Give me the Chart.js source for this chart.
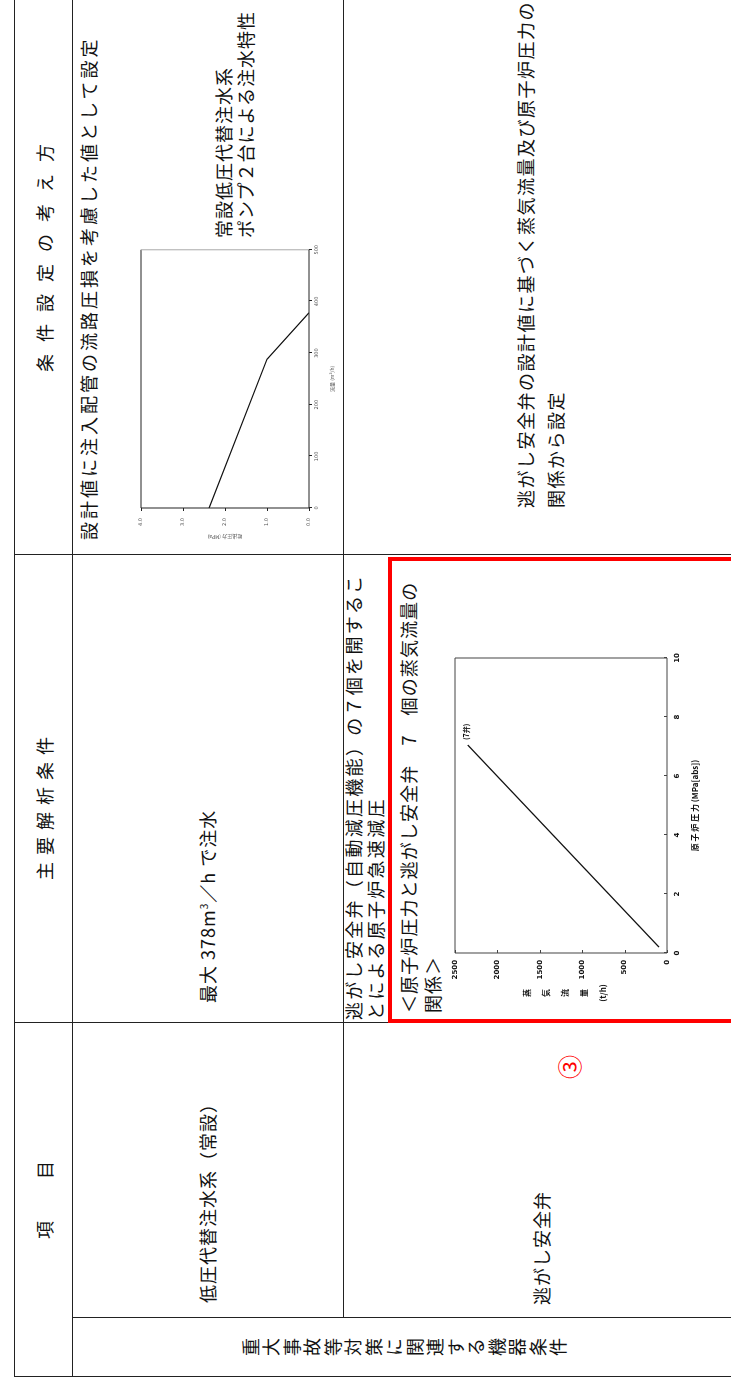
<!DOCTYPE html>
<html lang="ja">
<head>
<meta charset="utf-8">
<title>逃がし安全弁 蒸気流量と原子炉圧力</title>
<script src="https://cdn.jsdelivr.net/npm/chart.js@4.4.1/dist/chart.umd.min.js"></script>
<style>
  html, body { margin: 0; padding: 0; background: #fff; }
  body { width: 731px; height: 1385px; overflow: hidden; position: relative; }
  /* the page is laid out landscape, then turned a quarter left */
  #page {
    position: absolute; left: 0; top: 0; width: 1385px; height: 731px;
    transform-origin: 0 0; transform: translateY(1385px) rotate(-90deg);
    font-family: "Noto Sans CJK JP", sans-serif; color: #111;
  }
  .t { position: absolute; white-space: nowrap; font-size: 18px; line-height: 18px; }
  .hl { position: absolute; height: 0; border-top: 1.5px solid #222; }
  .vl { position: absolute; width: 0; border-left: 1.5px solid #222; }
  .vert { writing-mode: vertical-rl; }
  #redbox { position: absolute; left: 362px; top: 388px; width: 466px; height: 420px;
            border: 4px solid #ff0000; box-sizing: border-box; }
  #ytitle { position: absolute; left: 382px; top: 517px; width: 20px; text-align: center;
            font: bold 8px/19px "Noto Sans CJK JP", sans-serif; color: #111; }
  canvas { position: absolute; }
</style>
</head>
<body>
<div id="page">
  <!-- table rules -->
  <div class="vl" style="left:8px;top:14px;height:730px"></div>
  <div class="vl" style="left:67px;top:72px;height:672px"></div>
  <div class="vl" style="left:362px;top:14px;height:730px"></div>
  <div class="vl" style="left:830px;top:14px;height:730px"></div>
  <div class="hl" style="left:8px;top:14px;width:1380px"></div>
  <div class="hl" style="left:8px;top:72px;width:1380px"></div>
  <div class="hl" style="left:67px;top:343px;width:1320px"></div>

  <!-- header row -->
  <div class="t" style="left:146px;top:35px;letter-spacing:2px">項　　目</div>
  <div class="t" style="left:505px;top:35px;letter-spacing:7px">主要解析条件</div>
  <div class="t" style="left:1013px;top:35px;letter-spacing:12px">条件設定の考え方</div>

  <!-- category column -->
  <div class="t vert" style="left:29px;top:242px;letter-spacing:2.5px">重大事故等対策に関連する機器条件</div>

  <!-- row 1 -->
  <div class="t" style="left:82px;top:198px;letter-spacing:1px">低圧代替注水系（常設）</div>
  <div class="t" style="left:382px;top:198px;letter-spacing:1px">最大 378m<sup style="font-size:10px;line-height:0">3</sup>／h で注水</div>
  <div class="t" style="left:845px;top:79px;letter-spacing:3px">設計値に注入配管の流路圧損を考慮した値として設定</div>
  <div class="t" style="left:1147px;top:214px;letter-spacing:1px">常設低圧代替注水系</div>
  <div class="t" style="left:1147px;top:236px;letter-spacing:1px">ポンプ２台による注水特性</div>
  <canvas id="pumpChart" width="310" height="215" style="left:835px;top:128px"></canvas>

  <!-- row 2 -->
  <div class="t" style="left:80px;top:532px;letter-spacing:1px">逃がし安全弁</div>
  <div class="t" style="left:306px;top:557px;font-size:24px;line-height:24px;color:#ff0000">③</div>
  <div class="t" style="left:365px;top:344px;letter-spacing:2.3px">逃がし安全弁（自動減圧機能）の７個を開するこ</div>
  <div class="t" style="left:365px;top:366px;letter-spacing:2.3px">とによる原子炉急速減圧</div>
  <div id="redbox"></div>
  <div class="t" style="left:372px;top:399px;letter-spacing:1.1px">＜原子炉圧力と逃がし安全弁　7　個の蒸気流量の</div>
  <div class="t" style="left:372px;top:423px;letter-spacing:1.1px">関係＞</div>
  <canvas id="srvChart" width="360" height="270" style="left:380px;top:440px"></canvas>
  <div id="ytitle">蒸<br>気<br>流<br>量<br>(t/h)</div>
  <div class="t" style="left:877px;top:516px;letter-spacing:1.5px">逃がし安全弁の設計値に基づく蒸気流量及び原子炉圧力の</div>
  <div class="t" style="left:877px;top:546px;letter-spacing:1.5px">関係から設定</div>
</div>

<script>
// pump injection characteristic (row 1)
const pumpFlow = [0, 288, 378];            // m3/h
const pumpPressure = [2.38, 1.0, 0.0];     // MPa
const pumpFlowTicks = [0, 100, 200, 300, 400, 500];
const pumpPressureTicks = [0, 1, 2, 3, 4];

// 7 SRV steam flow vs reactor pressure (row 2)
const srvPressure = [0.2, 7.05];           // MPa[abs]
const srvFlow = [95, 2350];                // t/h
const srvPressureTicks = [0, 2, 4, 6, 8, 10];
const srvFlowTicks = [0, 500, 1000, 1500, 2000, 2500];
const srvLabel = '(7弁)';

function toPoints(xs, ys) {
  return xs.map((x, i) => ({ x: x, y: ys[i] }));
}

function fixedTicks(values) {
  return function (scale) {
    scale.ticks = values.map((v) => ({ value: v }));
  };
}

// box round the plot area, with small tick marks (tick > 0 = inward)
const framePlugin = {
  id: 'frame',
  afterDraw(chart, args, opts) {
    const { ctx, chartArea: a, scales } = chart;
    const L = opts.tick || 0;
    ctx.save();
    ctx.lineWidth = 1;
    const side = (x1, y1, x2, y2, c) => {
      ctx.strokeStyle = c;
      ctx.beginPath(); ctx.moveTo(x1, y1); ctx.lineTo(x2, y2); ctx.stroke();
    };
    side(a.left, a.top, a.right, a.top, opts.top);
    side(a.right, a.top, a.right, a.bottom, opts.right);
    side(a.left, a.bottom, a.right, a.bottom, opts.bottom);
    side(a.left, a.top, a.left, a.bottom, opts.left);
    scales.x.ticks.forEach((t) => {
      const px = Math.round(scales.x.getPixelForValue(t.value)) + 0.5;
      side(px, a.bottom, px, a.bottom - L, opts.bottom);
    });
    scales.y.ticks.forEach((t) => {
      const py = Math.round(scales.y.getPixelForValue(t.value)) + 0.5;
      side(a.left, py, a.left + L, py, opts.left);
    });
    ctx.restore();
  }
};

const endLabelPlugin = {
  id: 'endLabel',
  afterDatasetsDraw(chart, args, opts) {
    const pts = chart.getDatasetMeta(0).data;
    const p = pts[pts.length - 1];
    const ctx = chart.ctx;
    ctx.save();
    ctx.font = 'bold 7px "Noto Sans CJK JP", sans-serif';
    ctx.fillStyle = '#111';
    ctx.textBaseline = 'middle';
    ctx.fillText(opts.text, p.x + 5, p.y - 1);
    ctx.restore();
  }
};

new Chart(document.getElementById('pumpChart'), {
  type: 'scatter',
  data: {
    datasets: [{
      data: toPoints(pumpFlow, pumpPressure),
      showLine: true, borderColor: '#111', borderWidth: 1.2,
      pointRadius: 0, tension: 0, fill: false
    }]
  },
  options: {
    responsive: false, animation: false, devicePixelRatio: 1,
    layout: { padding: { top: 9, right: 8, left: 0, bottom: 0 } },
    plugins: {
      legend: { display: false }, tooltip: { enabled: false },
      frame: { tick: -3, top: '#222', left: '#222', bottom: '#222', right: '#aaa' }
    },
    scales: {
      x: {
        type: 'linear', min: 0, max: 500,
        afterBuildTicks: fixedTicks(pumpFlowTicks),
        afterFit(s) { s.height = 34; },
        grid: { display: false, drawTicks: false }, border: { display: false },
        ticks: { autoSkip: false, maxRotation: 0, padding: 5, color: '#555',
                 font: { family: 'DejaVu Sans', size: 5 },
                 callback: (v) => String(v) },
        title: { display: true, text: '流量 (m³/h)', color: '#555',
                 font: { family: 'Noto Sans CJK JP', size: 5 }, padding: { top: 0, bottom: 8 } }
      },
      y: {
        type: 'linear', min: 0, max: 4,
        afterBuildTicks: fixedTicks(pumpPressureTicks),
        afterFit(s) { s.width = 42; },
        grid: { display: false, drawTicks: false }, border: { display: false },
        ticks: { autoSkip: false, padding: 10, color: '#555',
                 font: { family: 'DejaVu Sans', size: 5 },
                 callback: (v) => Number(v).toFixed(1) },
        title: { display: true, text: '吐出圧力 (MPa)', color: '#555',
                 font: { family: 'Noto Sans CJK JP', size: 5 }, padding: { top: 10, bottom: 0 } }
      }
    }
  },
  plugins: [framePlugin]
});

new Chart(document.getElementById('srvChart'), {
  type: 'scatter',
  data: {
    datasets: [{
      data: toPoints(srvPressure, srvFlow),
      showLine: true, borderColor: '#111', borderWidth: 1.2,
      pointRadius: 0, tension: 0, fill: false
    }]
  },
  options: {
    responsive: false, animation: false, devicePixelRatio: 1,
    layout: { padding: { top: 15, right: 13, left: 0, bottom: 0 } },
    plugins: {
      legend: { display: false }, tooltip: { enabled: false },
      frame: { tick: 3, top: '#444', left: '#444', bottom: '#444', right: '#444' },
      endLabel: { text: srvLabel }
    },
    scales: {
      x: {
        type: 'linear', min: 0, max: 10,
        afterBuildTicks: fixedTicks(srvPressureTicks),
        afterFit(s) { s.height = 43; },
        grid: { display: false, drawTicks: false }, border: { display: false },
        ticks: { autoSkip: false, maxRotation: 0, padding: 6, color: '#111',
                 font: { family: 'DejaVu Sans', size: 7, weight: 'bold' },
                 callback: (v) => String(v) },
        title: { display: true, text: '原 子 炉 圧 力 (MPa[abs])', color: '#111',
                 font: { family: 'Noto Sans CJK JP', size: 8, weight: 'bold' },
                 padding: { top: 0, bottom: 10 } }
      },
      y: {
        type: 'linear', min: 0, max: 2500,
        afterBuildTicks: fixedTicks(srvFlowTicks),
        afterFit(s) { s.width = 52; },
        grid: { display: false, drawTicks: false }, border: { display: false },
        ticks: { autoSkip: false, padding: 7, color: '#111',
                 font: { family: 'DejaVu Sans', size: 7, weight: 'bold' },
                 callback: (v) => String(v) }
      }
    }
  },
  plugins: [framePlugin, endLabelPlugin]
});
</script>
</body>
</html>
